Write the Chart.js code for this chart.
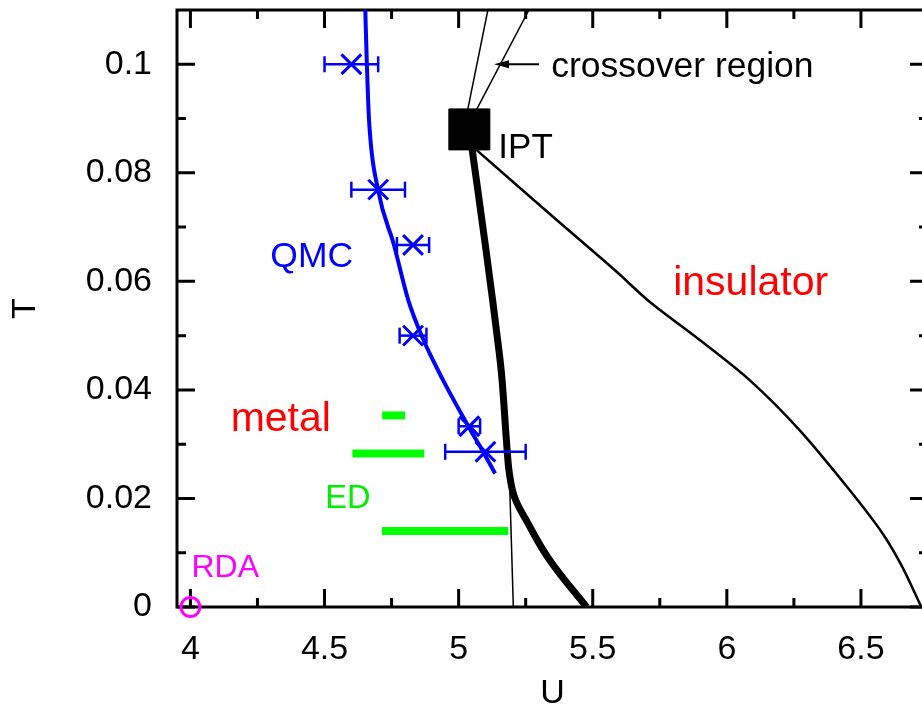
<!DOCTYPE html>
<html><head><meta charset="utf-8">
<style>
html,body{margin:0;padding:0;overflow:hidden;background:#fff;width:922px;height:707px}
canvas{display:block;position:absolute;left:0;top:0}
</style>
<script src="https://cdn.jsdelivr.net/npm/chart.js@4.4.1/dist/chart.umd.min.js"></script>
</head><body>
<canvas id="c" width="960" height="720"></canvas>
<script>
// ---- axis ticks ----
const xTickVals = [4, 4.5, 5, 5.5, 6, 6.5];
const xMinorVals = [4.25, 4.75, 5.25, 5.75, 6.25];
const yTickVals = [0, 0.02, 0.04, 0.06, 0.08, 0.1];
const yMinorVals = [0.01, 0.03, 0.05, 0.07, 0.09];

// ---- QMC points with horizontal error bars ----
const qmcU = [4.60, 4.70, 4.83, 4.83, 5.04, 5.10];
const qmcT = [0.1, 0.0769, 0.0667, 0.05, 0.0333, 0.0286];
const qmcErr = [0.10, 0.10, 0.06, 0.05, 0.04, 0.15];

// ---- QMC guide curve ----
const qmcFitU = [4.652, 4.658, 4.666, 4.700, 4.759, 4.812, 4.863, 4.942, 5.035, 5.090, 5.136];
const qmcFitT = [0.110, 0.0999, 0.0897, 0.0768, 0.0667, 0.0566, 0.0499, 0.0418, 0.0334, 0.0287, 0.0246];

// ---- IPT first-order line (thick) ----
const firstU = [5.04, 5.102, 5.150, 5.162, 5.180, 5.189, 5.208, 5.252, 5.340, 5.477];
const firstT = [0.088, 0.0658, 0.0474, 0.0418, 0.0295, 0.0247, 0.0203, 0.0160, 0.0086, 0];

// ---- IPT insulator boundary ----
const insU = [5.06, 5.340, 5.586, 5.713, 5.899, 6.085, 6.271, 6.457, 6.580, 6.654, 6.725];
const insT = [0.0845, 0.0724, 0.0619, 0.0562, 0.0492, 0.0418, 0.0326, 0.0216, 0.0136, 0.0074, 0];

// ---- crossover region boundaries ----
const crossAU = [5.019, 5.109], crossAT = [0.088, 0.110];
const crossBU = [5.028, 5.262], crossBT = [0.088, 0.110];

// ---- thin low-T line ----
const thinU = [5.15, 5.189, 5.204], thinT = [0.0474, 0.0247, 0];

// ---- ED bars ----
const edT = [0.0353, 0.0283, 0.0140];
const edLo = [4.715, 4.604, 4.714];
const edHi = [4.800, 4.872, 5.185];

// ---- single points ----
const iptU = [5.04], iptT = [0.088];
const rdaU = [4.0], rdaT = [0];

// ---- text labels ----
const labels = [
  {text: 'crossover region', u: 5.345, t: 0.0977, color: '#000', size: 35.5},
  {text: 'IPT', u: 5.148, t: 0.0827, color: '#000', size: 35},
  {text: 'QMC', u: 4.298, t: 0.0627, color: '#0000ff', size: 35.5},
  {text: 'metal', u: 4.150, t: 0.0325, color: '#ff0000', size: 41},
  {text: 'insulator', u: 5.800, t: 0.0575, color: '#ff0000', size: 41},
  {text: 'ED', u: 4.503, t: 0.0182, color: '#00ee00', size: 32.5},
  {text: 'RDA', u: 4.004, t: 0.0055, color: '#ff00ff', size: 32}
];
const arrowFromU = 5.30, arrowToU = 5.132, arrowT = 0.1;

const FONT = '"Liberation Sans", Arial, Helvetica, sans-serif';
const zip = (us, ts) => us.map((u, i) => ({x: u, y: ts[i]}));

const datasets = [];
datasets.push({data: zip(iptU, iptT), showLine: false, pointStyle: 'rect', pointRadius: 29,
  pointBackgroundColor: '#000', pointBorderColor: '#000', pointBorderWidth: 1, order: 0});
datasets.push({data: zip(rdaU, rdaT), showLine: false, pointStyle: 'circle', pointRadius: 9.5,
  pointBackgroundColor: 'rgba(0,0,0,0)', pointBorderColor: '#ff00ff', pointBorderWidth: 3, clip: false, order: 0});
datasets.push({data: zip(qmcU, qmcT), showLine: false, pointStyle: 'crossRot', pointRadius: 14,
  pointBorderColor: '#0000ff', pointBorderWidth: 3, order: 1});
qmcU.forEach((u, i) => {
  datasets.push({data: [{x: u - qmcErr[i], y: qmcT[i]}, {x: u + qmcErr[i], y: qmcT[i]}],
    borderColor: '#0000ff', borderWidth: 2.5, pointStyle: 'line', rotation: 90, pointRadius: 8,
    pointBorderColor: '#0000ff', pointBorderWidth: 2.5, order: 2});
});
datasets.push({data: zip(qmcFitU, qmcFitT), borderColor: '#0000ff', borderWidth: 4,
  cubicInterpolationMode: 'monotone', pointRadius: 0, order: 3});
edT.forEach((t, i) => {
  datasets.push({data: [{x: edLo[i], y: t}, {x: edHi[i], y: t}], borderColor: '#00ff00', borderWidth: 8,
    borderCapStyle: 'butt', pointRadius: 0, order: 4});
});
datasets.push({data: zip(firstU, firstT), borderColor: '#000', borderWidth: 7,
  tension: 0.4, borderJoinStyle: 'round', pointRadius: 0, order: 5});
datasets.push({data: zip(insU, insT), borderColor: '#000', borderWidth: 2.5,
  tension: 0.3, pointRadius: 0, order: 6});
datasets.push({data: zip(crossAU, crossAT), borderColor: '#000', borderWidth: 1.5, pointRadius: 0, order: 6});
datasets.push({data: zip(crossBU, crossBT), borderColor: '#000', borderWidth: 1.5, pointRadius: 0, order: 6});
datasets.push({data: zip(thinU, thinT), borderColor: '#000', borderWidth: 1.5, pointRadius: 0, order: 6});

const framePlugin = {
  id: 'frame',
  beforeDatasetsDraw(chart) {
    const {ctx, chartArea: a, scales: {x, y}} = chart;
    ctx.save();
    ctx.strokeStyle = '#000';
    ctx.lineWidth = 3;
    ctx.strokeRect(a.left, a.top, a.right - a.left, a.bottom - a.top);
    ctx.beginPath();
    const xt = (v, len) => { const p = x.getPixelForValue(v);
      ctx.moveTo(p, a.bottom); ctx.lineTo(p, a.bottom - len);
      ctx.moveTo(p, a.top); ctx.lineTo(p, a.top + len); };
    const yt = (v, len) => { const p = y.getPixelForValue(v);
      ctx.moveTo(a.left, p); ctx.lineTo(a.left + len, p);
      ctx.moveTo(a.right, p); ctx.lineTo(a.right - len, p); };
    xTickVals.forEach(v => xt(v, 18));
    xMinorVals.forEach(v => xt(v, 9));
    yTickVals.forEach(v => yt(v, 18));
    yMinorVals.forEach(v => yt(v, 9));
    ctx.stroke();
    ctx.restore();
  },
  afterDatasetsDraw(chart) {
    const {ctx, scales: {x, y}} = chart;
    ctx.save();
    labels.forEach(l => {
      ctx.font = l.size + 'px ' + FONT;
      ctx.fillStyle = l.color;
      ctx.textAlign = 'left';
      ctx.textBaseline = 'alphabetic';
      ctx.fillText(l.text, x.getPixelForValue(l.u), y.getPixelForValue(l.t));
    });
    const x1 = x.getPixelForValue(arrowFromU), x2 = x.getPixelForValue(arrowToU), py = y.getPixelForValue(arrowT);
    ctx.strokeStyle = '#000'; ctx.fillStyle = '#000'; ctx.lineWidth = 2;
    ctx.beginPath(); ctx.moveTo(x1, py); ctx.lineTo(x2 + 10, py); ctx.stroke();
    ctx.beginPath(); ctx.moveTo(x2, py); ctx.lineTo(x2 + 15, py - 4); ctx.lineTo(x2 + 15, py + 4); ctx.closePath(); ctx.fill();
    ctx.restore();
  }
};

new Chart(document.getElementById('c'), {
  type: 'line',
  data: {datasets},
  options: {
    responsive: false,
    animation: false,
    events: [],
    devicePixelRatio: 1,
    layout: {autoPadding: false, padding: {left: 0, top: 10, right: 32, bottom: 0}},
    plugins: {legend: {display: false}, tooltip: {enabled: false}},
    scales: {
      x: {
        type: 'linear', min: 3.95, max: 6.75,
        afterBuildTicks: s => { s.ticks = xTickVals.map(v => ({value: v})); },
        afterFit: s => { s.height = 113; s.paddingLeft = 0; s.paddingRight = 0; s.paddingTop = 0; s.paddingBottom = 0; },
        grid: {display: false}, border: {display: false},
        ticks: {color: '#000', font: {size: 34, family: FONT}, padding: 14, maxRotation: 0,
          callback: v => String(v)},
        title: {display: true, text: 'U', color: '#000', font: {size: 34, family: FONT}, padding: {top: 0, bottom: 6}}
      },
      y: {
        type: 'linear', min: 0, max: 0.11,
        afterBuildTicks: s => { s.ticks = yTickVals.map(v => ({value: v})); },
        afterFit: s => { s.width = 177; s.paddingLeft = 0; s.paddingRight = 0; s.paddingTop = 0; s.paddingBottom = 0; },
        grid: {display: false}, border: {display: false},
        ticks: {color: '#000', font: {size: 34, family: FONT}, padding: 17,
          callback: v => String(v)},
        title: {display: true, text: 'T', color: '#000', font: {size: 34, family: FONT}, padding: {top: 5, bottom: 0}}
      }
    }
  },
  plugins: [framePlugin]
});
</script>
</body></html>
